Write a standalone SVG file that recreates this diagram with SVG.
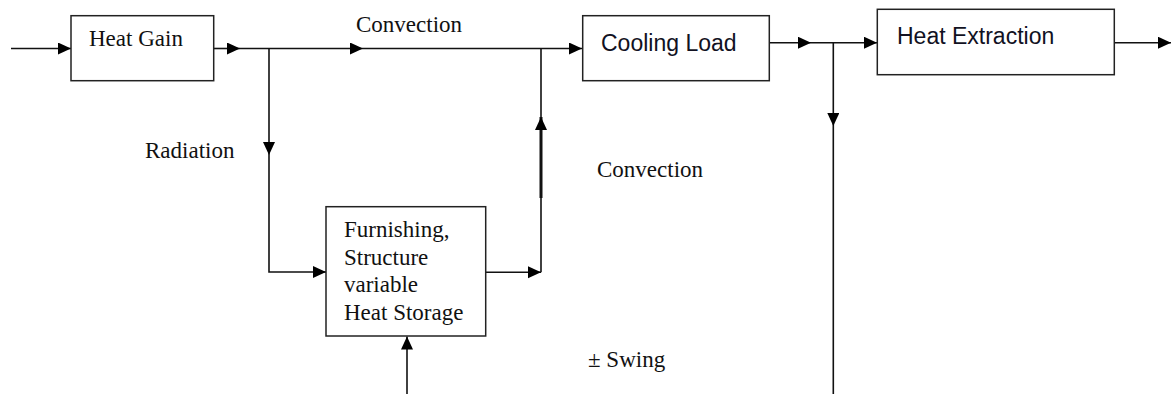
<svg xmlns="http://www.w3.org/2000/svg" width="1171" height="394" viewBox="0 0 1171 394">
  <style>
    .box { fill: #ffffff; stroke: #222222; stroke-width: 1.5; }
    .ln { fill: none; stroke: #111111; stroke-width: 1.6; }
    .thick { stroke-width: 3; }
    .serif { font-family: "Liberation Serif", "Times New Roman", serif; font-size: 23px; fill: #111111; }
    .sans { font-family: "Liberation Sans", Arial, sans-serif; font-size: 23px; fill: #111122; }
  </style>
  <defs>
    <marker id="arr" markerUnits="userSpaceOnUse" markerWidth="14" markerHeight="13" refX="13" refY="6" orient="auto">
      <path d="M0,0 L13,6 L0,12 z" fill="#000000"/>
    </marker>
  </defs>
  <rect width="1171" height="394" fill="#ffffff"/>

  <g id="connectors">
    <line class="ln" x1="11" y1="48.5" x2="71" y2="48.5" marker-end="url(#arr)"/>
    <line class="ln" x1="214" y1="48.5" x2="240" y2="48.5" marker-end="url(#arr)"/>
    <line class="ln" x1="240" y1="48.5" x2="363" y2="48.5" marker-end="url(#arr)"/>
    <line class="ln" x1="363" y1="48.5" x2="582" y2="48.5" marker-end="url(#arr)"/>
    <line class="ln" x1="269" y1="48.5" x2="269" y2="155" marker-end="url(#arr)"/>
    <polyline class="ln" points="269,155 269,272 326,272" marker-end="url(#arr)"/>
    <line class="ln" x1="486" y1="272.3" x2="541" y2="272.3" marker-end="url(#arr)"/>
    <line class="ln" x1="541" y1="272.3" x2="541" y2="48.5"/>
    <line class="ln thick" x1="541" y1="198" x2="541" y2="117" marker-end="url(#arr)"/>
    <line class="ln" x1="407" y1="394" x2="407" y2="336.5" marker-end="url(#arr)"/>
    <line class="ln" x1="769.5" y1="42.7" x2="811" y2="42.7" marker-end="url(#arr)"/>
    <line class="ln" x1="811" y1="42.7" x2="877" y2="42.7" marker-end="url(#arr)"/>
    <line class="ln" x1="833.3" y1="42.7" x2="833.3" y2="126" marker-end="url(#arr)"/>
    <line class="ln" x1="833.3" y1="126" x2="833.3" y2="394"/>
    <line class="ln" x1="1114.5" y1="42.7" x2="1171" y2="42.7" marker-end="url(#arr)"/>
  </g>

  <g id="heat-gain">
    <rect class="box" x="71" y="15.7" width="142.7" height="65"/>
    <text class="serif" x="89" y="46">Heat Gain</text>
  </g>

  <g id="cooling-load">
    <rect class="box" x="582.7" y="15.7" width="186.6" height="65"/>
    <text class="sans" x="601" y="51">Cooling Load</text>
  </g>

  <g id="heat-extraction">
    <rect class="box" x="877.3" y="9.3" width="237" height="65.4"/>
    <text class="sans" x="897" y="44">Heat Extraction</text>
  </g>

  <g id="heat-storage">
    <rect class="box" x="326" y="206.7" width="159.7" height="129.3"/>
    <text class="serif" x="344" y="237">Furnishing,</text>
    <text class="serif" x="344" y="264.5">Structure</text>
    <text class="serif" x="344" y="292">variable</text>
    <text class="serif" x="344" y="320">Heat Storage</text>
  </g>

  <g id="labels">
    <text class="serif" x="356" y="32">Convection</text>
    <text class="serif" x="145" y="158">Radiation</text>
    <text class="serif" x="597" y="177">Convection</text>
    <text class="serif" x="588" y="367">± Swing</text>
  </g>
</svg>
